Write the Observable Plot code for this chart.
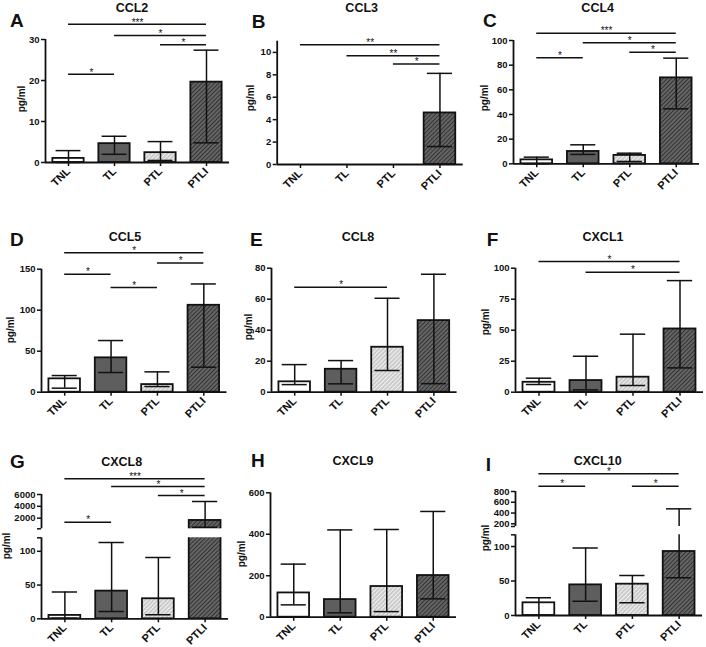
<!DOCTYPE html>
<html>
<head>
<meta charset="utf-8">
<script src="https://cdn.jsdelivr.net/npm/d3@7"></script>
<script src="https://cdn.jsdelivr.net/npm/@observablehq/plot@0.6"></script>
<style>
  html, body { margin: 0; padding: 0; background: #fff; }
  #fig { position: relative; width: 706px; height: 647px; overflow: hidden; font-family: "Liberation Sans", Arial, sans-serif; color: #111; }
  .title { position: absolute; transform: translate(-50%, -50%); font-weight: bold; font-size: 12.5px; white-space: nowrap; line-height: 1; }
  .letter { position: absolute; transform: translate(0, -50%); font-weight: bold; font-size: 19px; line-height: 1; }
  .ylab { position: absolute; transform: translate(-50%, -50%) rotate(-90deg); font-weight: bold; font-size: 10px; white-space: nowrap; line-height: 1; }
</style>
</head>
<body>
<svg width="0" height="0" style="position:absolute">
  <defs>
    <pattern id="hatchLight" patternUnits="userSpaceOnUse" width="3" height="3" patternTransform="rotate(45)">
      <rect width="3" height="3" fill="#cbcbcb"></rect>
      <line x1="0.5" y1="0" x2="0.5" y2="3" stroke="#f2f2f2" stroke-width="1"></line>
    </pattern>
    <pattern id="hatchDark" patternUnits="userSpaceOnUse" width="3" height="3" patternTransform="rotate(45)">
      <rect width="3" height="3" fill="#666666"></rect>
      <line x1="0.5" y1="0" x2="0.5" y2="3" stroke="#333333" stroke-width="1.1"></line>
    </pattern>
  </defs>
</svg>
<div id="fig"></div>
<script>
// ---------- data ----------
const groups = ["TNL", "TL", "PTL", "PTLI"];
const panelLetters = ["A", "B", "C", "D", "E", "F", "G", "H", "I"];
const panelTitles = ["CCL2", "CCL3", "CCL4", "CCL5", "CCL8", "CXCL1", "CXCL8", "CXCL9", "CXCL10"];
const yLabel = "pg/ml";

// bar value, lower whisker, upper whisker (TNL, TL, PTL, PTLI)
const ccl2Bar = [1.0, 4.6, 2.4, 19.6];
const ccl2Low = [0, 2.0, 0.5, 4.8];
const ccl2High = [2.9, 6.4, 5.1, 27.4];
const ccl2Sig = [
  {from: "TNL", to: "PTLI", label: "***", y: 33.7},
  {from: "TL", to: "PTLI", label: "*", y: 31.0},
  {from: "PTL", to: "PTLI", label: "*", y: 28.7},
  {from: "TNL", to: "TL", label: "*", y: 21.5}
];

const ccl3Bar = [0, 0, 0, 4.6];
const ccl3Low = [0, 0, 0, 1.6];
const ccl3High = [0, 0, 0, 8.13];
const ccl3Sig = [
  {from: "TNL", to: "PTLI", label: "**", y: 10.68},
  {from: "TL", to: "PTLI", label: "**", y: 9.7},
  {from: "PTL", to: "PTLI", label: "*", y: 8.96}
];

const ccl4Bar = [3.2, 10.0, 6.8, 69.7];
const ccl4Low = [0, 7.6, 1.9, 44.6];
const ccl4High = [5.4, 15.4, 8.6, 85.7];
const ccl4Sig = [
  {from: "TNL", to: "PTLI", label: "***", y: 105.9},
  {from: "TL", to: "PTLI", label: "*", y: 98.1},
  {from: "PTL", to: "PTLI", label: "*", y: 90.5},
  {from: "TNL", to: "TL", label: "*", y: 86.0}
];

const ccl5Bar = [16.3, 41.9, 9.3, 106];
const ccl5Low = [4.9, 24, 6.9, 30.5];
const ccl5High = [20.3, 63, 24.8, 132];
const ccl5Sig = [
  {from: "TNL", to: "PTLI", label: "*", y: 170},
  {from: "PTL", to: "PTLI", label: "*", y: 157.7},
  {from: "TNL", to: "TL", label: "*", y: 143.9},
  {from: "TL", to: "PTL", label: "*", y: 127.6}
];

const ccl8Bar = [6.7, 14.8, 29, 46.2];
const ccl8Low = [4.9, 5.4, 14, 5.5];
const ccl8High = [17.8, 20.4, 60.6, 76.1];
const ccl8Sig = [
  {from: "TNL", to: "PTL", label: "*", y: 67.7}
];

const cxcl1Bar = [8, 9.4, 12.1, 51];
const cxcl1Low = [6.2, 1.9, 5.4, 19.6];
const cxcl1High = [11.3, 29, 46.8, 90];
const cxcl1Sig = [
  {from: "TNL", to: "PTLI", label: "*", y: 105.4},
  {from: "TL", to: "PTLI", label: "*", y: 96.8}
];

const cxcl8Bar = [5, 41, 29.7, 1612];
const cxcl8Low = [1, 10.9, 5.9, 481];
const cxcl8High = [39.6, 113, 91, 4818];
const cxcl8Sig = [
  {from: "TNL", to: "PTLI", label: "***", y: 8650},
  {from: "TL", to: "PTLI", label: "*", y: 7350},
  {from: "PTL", to: "PTLI", label: "*", y: 5830},
  {from: "TNL", to: "TL", label: "*", y: 1320}
];

const cxcl9Bar = [117, 85, 148, 201];
const cxcl9Low = [59.5, 21, 27, 88.5];
const cxcl9High = [256, 421, 423, 510];

const cxcl10Bar = [18.4, 44.4, 45.4, 92.8];
const cxcl10Low = [0, 20.8, 18.4, 54.6];
const cxcl10High = [25.6, 98, 58, 478];
const cxcl10Sig = [
  {from: "TNL", to: "PTLI", label: "*", y: 1129},
  {from: "TNL", to: "TL", label: "*", y: 898},
  {from: "PTL", to: "PTLI", label: "*", y: 898}
];

// ---------- drawing ----------
const fig = document.getElementById("fig");
const BAR = 0.34, CAP = 0.27;
const fills = ["white", "#5e5e5e", "url(#hatchLight)", "url(#hatchDark)"];

function chart({cell, xr, yr, domain, ticks, hidden = [], bars, low, high, sig = [], xAxis = true, clip = false}) {
  const [L, T, W, H] = cell;
  const rows = groups.map((group, i) => ({i, group, v: bars[i], lo: low[i], hi: high[i]}));
  // in an upper (broken-axis) segment only values reaching the segment are drawn
  const barRows = domain[0] > 0 ? rows.filter(d => d.v > domain[0]) : rows;
  const errs = rows.filter(d => d.hi > 0 && d.hi > domain[0]);
  const idx = g => groups.indexOf(g);
  const marks = [
    Plot.rectY(barRows, {x1: d => d.i - BAR, x2: d => d.i + BAR, y1: 0, y2: "v", fill: "group", stroke: "#111", strokeWidth: 1.8, clip}),
    Plot.ruleX(errs, {x: "i", y1: "lo", y2: "hi", stroke: "#111", strokeWidth: 1.5, clip}),
    Plot.ruleY(errs, {x1: d => d.i - CAP, x2: d => d.i + CAP, y: "hi", stroke: "#111", strokeWidth: 1.5, clip}),
    Plot.ruleY(errs.filter(d => d.lo >= domain[0]), {x1: d => d.i - CAP, x2: d => d.i + CAP, y: "lo", stroke: "#111", strokeWidth: 1.5, clip}),
    Plot.ruleX([-0.5], {y1: domain[0], y2: domain[1], stroke: "#111", strokeWidth: 1.8}),
    Plot.axisY({ticks, tickFormat: d => hidden.includes(d) ? "" : String(d), tickSize: 4, tickPadding: 2, strokeWidth: 1.5, fontSize: 9.5, fontWeight: "bold", label: null})
  ];
  if (xAxis) {
    marks.push(Plot.ruleY([domain[0]], {stroke: "#111", strokeWidth: 1.8}));
    marks.push(Plot.axisX({ticks: [0, 1, 2, 3], tickFormat: i => groups[i], tickRotate: -45, tickSize: 4, tickPadding: 3, strokeWidth: 1.5, fontSize: 11, fontWeight: "bold", label: null}));
  }
  if (sig.length) {
    marks.push(Plot.ruleY(sig, {x1: d => idx(d.from), x2: d => idx(d.to), y: "y", stroke: "#111", strokeWidth: 1.5}));
    marks.push(Plot.text(sig, {x: d => (idx(d.from) + idx(d.to)) / 2, y: "y", text: "label", dy: -2, fontSize: 10, fontWeight: "normal", fill: "#111"}));
  }
  const p = Plot.plot({
    width: W, height: H,
    marginLeft: xr[0] - L, marginRight: L + W - xr[1],
    marginTop: yr[0] - T, marginBottom: T + H - yr[1],
    x: {domain: [-0.5, 3.5], label: null, axis: null},
    y: {domain, label: null, axis: null},
    color: {type: "ordinal", domain: groups, range: fills},
    style: {fontFamily: "'Liberation Sans', Arial, sans-serif", fontWeight: "bold", fontSize: "9.5px", color: "#111", background: "transparent", overflow: "visible"},
    marks
  });
  p.style.position = "absolute";
  p.style.left = L + "px";
  p.style.top = T + "px";
  fig.appendChild(p);
}

function label(text, x, y, cls) {
  const d = document.createElement("div");
  d.className = cls;
  d.textContent = text;
  d.style.left = x + "px";
  d.style.top = y + "px";
  fig.appendChild(d);
}

chart({cell: [0, 0, 235, 210], xr: [45, 229], yr: [39, 162], domain: [0, 30], ticks: [0, 10, 20, 30], bars: ccl2Bar, low: ccl2Low, high: ccl2High, sig: ccl2Sig});
chart({cell: [235, 0, 230, 210], xr: [276.7, 462.7], yr: [40.7, 164], domain: [0, 11], ticks: [0, 2, 4, 6, 8, 10], bars: ccl3Bar, low: ccl3Low, high: ccl3High, sig: ccl3Sig});
chart({cell: [465, 0, 241, 210], xr: [513, 699], yr: [40, 163.3], domain: [0, 100], ticks: [0, 20, 40, 60, 80, 100], bars: ccl4Bar, low: ccl4Low, high: ccl4High, sig: ccl4Sig});
chart({cell: [0, 210, 235, 210], xr: [41, 226.5], yr: [268.7, 391.7], domain: [0, 150], ticks: [0, 50, 100, 150], bars: ccl5Bar, low: ccl5Low, high: ccl5High, sig: ccl5Sig});
chart({cell: [235, 210, 230, 210], xr: [271, 456.6], yr: [267.7, 391.7], domain: [0, 80], ticks: [0, 20, 40, 60, 80], bars: ccl8Bar, low: ccl8Low, high: ccl8High, sig: ccl8Sig});
chart({cell: [465, 210, 241, 210], xr: [515, 703], yr: [267.7, 391.7], domain: [0, 100], ticks: [0, 25, 50, 75, 100], bars: cxcl1Bar, low: cxcl1Low, high: cxcl1High, sig: cxcl1Sig});
// CXCL8: broken axis
chart({cell: [0, 420, 235, 227], xr: [41, 228], yr: [537.3, 618.3], domain: [0, 120], ticks: [0, 50, 100, 120], hidden: [120], bars: cxcl8Bar, low: cxcl8Low, high: cxcl8High, clip: true});
chart({cell: [0, 420, 235, 227], xr: [41, 228], yr: [494, 528.3], domain: [200, 6000], ticks: [200, 2000, 4000, 6000], hidden: [200], bars: cxcl8Bar, low: cxcl8Low, high: cxcl8High, sig: cxcl8Sig, xAxis: false, clip: true});
chart({cell: [235, 420, 230, 227], xr: [270, 456], yr: [492.3, 616.7], domain: [0, 600], ticks: [0, 200, 400, 600], bars: cxcl9Bar, low: cxcl9Low, high: cxcl9High});
// CXCL10: broken axis
chart({cell: [465, 420, 241, 227], xr: [515, 702], yr: [534.3, 615], domain: [0, 117], ticks: [0, 50, 100, 117], hidden: [117], bars: cxcl10Bar, low: cxcl10Low, high: cxcl10High, clip: true});
chart({cell: [465, 420, 241, 227], xr: [515, 702], yr: [491, 526], domain: [150, 800], ticks: [150, 200, 400, 600, 800], hidden: [150], bars: cxcl10Bar, low: cxcl10Low, high: cxcl10High, sig: cxcl10Sig, xAxis: false, clip: true});

const titlePos = [[132, 8.3], [361.7, 8], [597.7, 7.5], [125, 236.7], [358, 236.5], [603, 236.7], [121.7, 461.7], [353, 460.7], [597.7, 460.7]];
const letterPos = [[10, 20], [251.7, 21], [483, 20], [10, 239], [250, 238.5], [486.7, 238.5], [10, 461], [251, 459.5], [485.7, 464]];
const ylabPos = [[21.5, 99], [250.5, 98], [485, 97.5], [11, 330], [248.5, 327], [485.5, 321.7], [7, 546], [242, 554], [485.5, 538]];
panelTitles.forEach((t, k) => label(t, titlePos[k][0], titlePos[k][1], "title"));
panelLetters.forEach((t, k) => label(t, letterPos[k][0], letterPos[k][1], "letter"));
ylabPos.forEach(([x, y]) => label(yLabel, x, y, "ylab"));
</script>
</body>
</html>
